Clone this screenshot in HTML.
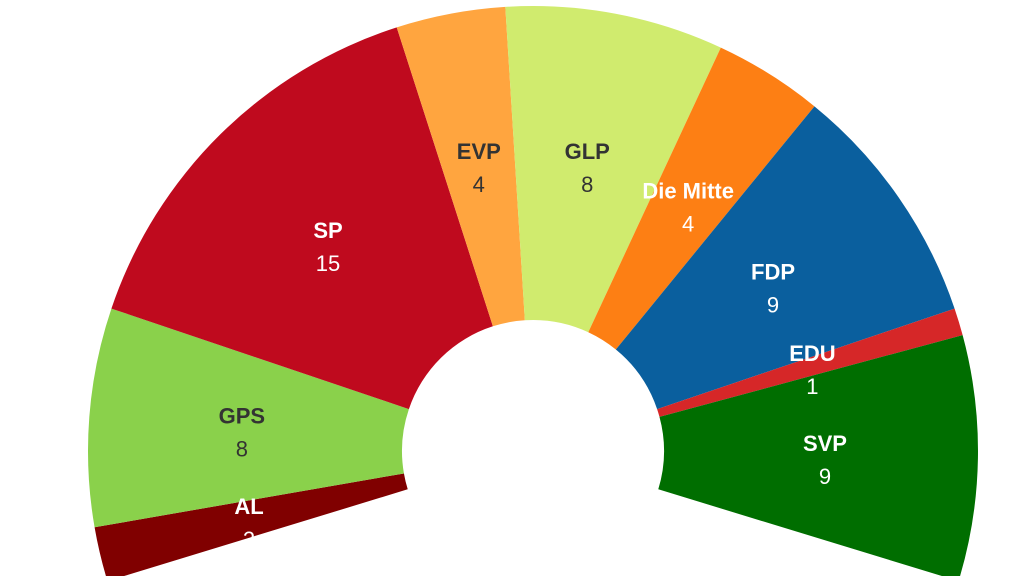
<!DOCTYPE html>
<html><head><meta charset="utf-8"><style>
html,body{margin:0;padding:0;background:#fff;overflow:hidden}
svg{display:block}
text{font-family:"Liberation Sans",Arial,sans-serif;font-size:22px;text-anchor:middle}
</style></head><body>
<svg id="chart" width="1024" height="576"></svg>
<script>
const parties = ["AL","GPS","SP","EVP","GLP","Die Mitte","FDP","EDU","SVP"];
const seats = [2,8,15,4,8,4,9,1,9];
const colors = ["#800000","#8ad14b","#bf0a1e","#ffa53f","#d0eb6e","#fd7f14","#0a5f9e","#d62728","#006e00"];
const textColors = ["#fff","#333","#fff","#333","#333","#fff","#fff","#fff","#fff"];
const cx=533, cy=451, r0=131, r1=445, startDeg=197, spanDeg=214;
const svg=document.getElementById('chart');
const NS="http://www.w3.org/2000/svg";
const total=seats.reduce((a,b)=>a+b,0);
function pt(r,deg){const a=deg*Math.PI/180;return [cx+r*Math.cos(a),cy-r*Math.sin(a)];}
let acc=0;
seats.forEach((s,i)=>{
  const a0=startDeg-acc/total*spanDeg, a1=startDeg-(acc+s)/total*spanDeg;
  acc+=s;
  const p1=pt(r1,a0),p2=pt(r1,a1),p3=pt(r0,a1),p4=pt(r0,a0);
  const large=(a0-a1)>180?1:0;
  const path=document.createElementNS(NS,'path');
  path.setAttribute('d',`M${p1}A${r1},${r1} 0 ${large} 1 ${p2}L${p3}A${r0},${r0} 0 ${large} 0 ${p4}Z`);
  path.setAttribute('fill',colors[i]);
  
  
  svg.appendChild(path);
});
acc=0;
seats.forEach((s,i)=>{
  const a0=startDeg-acc/total*spanDeg, a1=startDeg-(acc+s)/total*spanDeg;
  acc+=s;
  const m=pt(292,(a0+a1)/2);
  const t1=document.createElementNS(NS,'text');
  t1.setAttribute('x',m[0]);t1.setAttribute('y',m[1]-5);
  t1.setAttribute('fill',textColors[i]);t1.setAttribute('font-weight','bold');
  t1.textContent=parties[i];
  
  
  svg.appendChild(t1);
  const t2=document.createElementNS(NS,'text');
  t2.setAttribute('x',m[0]);t2.setAttribute('y',m[1]+28);
  t2.setAttribute('fill',textColors[i]);
  t2.textContent=s;
  
  
  svg.appendChild(t2);
});
</script>
</body></html>
